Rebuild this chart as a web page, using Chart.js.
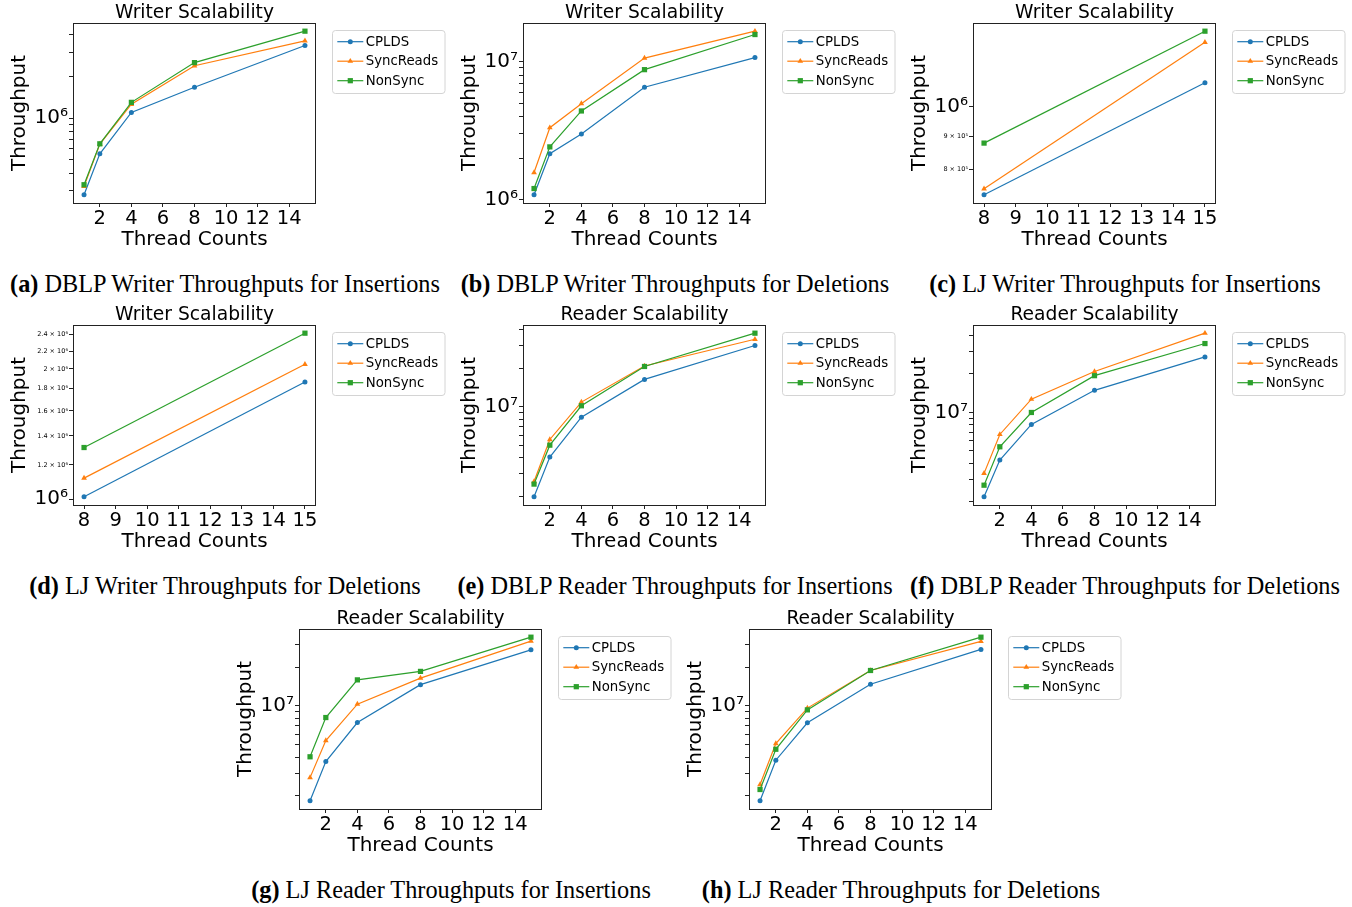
<!DOCTYPE html>
<html>
<head>
<meta charset="utf-8">
<script src="https://cdn.jsdelivr.net/npm/chart.js@4.4.1/dist/chart.umd.min.js"></script>
<style>
  html, body { margin: 0; padding: 0; background: #fff; }
  body { width: 1352px; height: 907px; position: relative; overflow: hidden; }
  .panel { position: absolute; width: 450px; height: 300px; }
  .panel canvas { position: absolute; left: 0; top: 0; }
  .cap {
    position: absolute; left: -20px; top: 270px; width: 490px; text-align: center;
    font-family: 'Liberation Serif', serif; font-size: 24.3px; line-height: 28px;
    white-space: nowrap; color: #000;
  }
</style>
</head>
<body>
<script>
// ── data ─────────────────────────────────────────────────────────────────────
const seriesNames = ['CPLDS', 'SyncReads', 'NonSync'];
const threads     = [1, 2, 4, 8, 15];
const ljThreads   = [8, 15];
const xTicksAll   = [2, 4, 6, 8, 10, 12, 14];
const xTicksLJ    = [8, 9, 10, 11, 12, 13, 14, 15];
const logSubs     = [1, 2, 3, 4, 5, 6, 7, 8, 9];
const ljWriterInsTicks = [8e5, 9e5, 1e6];
const ljWriterDelTicks = [1e6, 1.2e6, 1.4e6, 1.6e6, 1.8e6, 2e6, 2.2e6, 2.4e6];

// (a) DBLP writer, insertions
const dblpWInsCPLDS   = [2.79e5, 5.52e5, 1.10e6, 1.67e6, 3.35e6];
const dblpWInsSync    = [3.21e5, 6.49e5, 1.26e6, 2.39e6, 3.62e6];
const dblpWInsNonSync = [3.30e5, 6.52e5, 1.30e6, 2.52e6, 4.25e6];
// (b) DBLP writer, deletions
const dblpWDelCPLDS   = [1.09e6, 2.16e6, 3.00e6, 6.53e6, 1.07e7];
const dblpWDelSync    = [1.58e6, 3.33e6, 4.97e6, 1.06e7, 1.66e7];
const dblpWDelNonSync = [1.21e6, 2.42e6, 4.40e6, 8.75e6, 1.57e7];
// (c) LJ writer, insertions
const ljWInsCPLDS   = [7.30e5, 1.089e6];
const ljWInsSync    = [7.46e5, 1.258e6];
const ljWInsNonSync = [8.78e5, 1.309e6];
// (d) LJ writer, deletions
const ljWDelCPLDS   = [1.012e6, 1.866e6];
const ljWDelSync    = [1.118e6, 2.05e6];
const ljWDelNonSync = [1.316e6, 2.42e6];
// (e) DBLP reader, insertions
const dblpRInsCPLDS   = [1.98e6, 4.05e6, 8.30e6, 1.64e7, 3.02e7];
const dblpRInsSync    = [2.61e6, 5.56e6, 1.09e7, 2.09e7, 3.38e7];
const dblpRInsNonSync = [2.49e6, 5.02e6, 1.02e7, 2.07e7, 3.77e7];
// (f) DBLP reader, deletions
const dblpRDelCPLDS   = [2.19e6, 4.25e6, 8.06e6, 1.49e7, 2.72e7];
const dblpRDelSync    = [3.34e6, 6.73e6, 1.27e7, 2.09e7, 4.17e7];
const dblpRDelNonSync = [2.70e6, 5.39e6, 1.00e7, 1.94e7, 3.46e7];
// (g) LJ reader, insertions
const ljRInsCPLDS   = [1.83e6, 3.69e6, 7.42e6, 1.46e7, 2.72e7];
const ljRInsSync    = [2.77e6, 5.37e6, 1.03e7, 1.64e7, 3.18e7];
const ljRInsNonSync = [4.02e6, 8.11e6, 1.59e7, 1.85e7, 3.41e7];
// (h) LJ reader, deletions
const ljRDelCPLDS   = [1.83e6, 3.78e6, 7.38e6, 1.47e7, 2.74e7];
const ljRDelSync    = [2.45e6, 5.09e6, 9.60e6, 1.88e7, 3.16e7];
const ljRDelNonSync = [2.24e6, 4.60e6, 9.30e6, 1.88e7, 3.41e7];

// ── layout / style ───────────────────────────────────────────────────────────
const COLORS = ['#1f77b4', '#ff7f0e', '#2ca02c'];
const STYLES = ['circle', 'triangle', 'rect'];
const RADII  = [2.5, 3.3, 3.7];
const FONT   = 'DejaVu Sans';

const panels = [
  { left: 0,   top: 0,   tag: '(a)', cap: 'DBLP Writer Throughputs for Insertions', title: 'Writer Scalability',
    x: threads, xTicks: xTicksAll, series: [dblpWInsCPLDS, dblpWInsSync, dblpWInsNonSync] },
  { left: 450, top: 0,   tag: '(b)', cap: 'DBLP Writer Throughputs for Deletions', title: 'Writer Scalability',
    x: threads, xTicks: xTicksAll, series: [dblpWDelCPLDS, dblpWDelSync, dblpWDelNonSync] },
  { left: 900, top: 0,   tag: '(c)', cap: 'LJ Writer Throughputs for Insertions', title: 'Writer Scalability',
    x: ljThreads, xTicks: xTicksLJ, yTicks: ljWriterInsTicks, series: [ljWInsCPLDS, ljWInsSync, ljWInsNonSync] },
  { left: 0,   top: 302, tag: '(d)', cap: 'LJ Writer Throughputs for Deletions', title: 'Writer Scalability',
    x: ljThreads, xTicks: xTicksLJ, yTicks: ljWriterDelTicks, series: [ljWDelCPLDS, ljWDelSync, ljWDelNonSync] },
  { left: 450, top: 302, tag: '(e)', cap: 'DBLP Reader Throughputs for Insertions', title: 'Reader Scalability',
    x: threads, xTicks: xTicksAll, series: [dblpRInsCPLDS, dblpRInsSync, dblpRInsNonSync] },
  { left: 900, top: 302, tag: '(f)', cap: 'DBLP Reader Throughputs for Deletions', title: 'Reader Scalability',
    x: threads, xTicks: xTicksAll, series: [dblpRDelCPLDS, dblpRDelSync, dblpRDelNonSync] },
  { left: 226, top: 606, tag: '(g)', cap: 'LJ Reader Throughputs for Insertions', title: 'Reader Scalability',
    x: threads, xTicks: xTicksAll, series: [ljRInsCPLDS, ljRInsSync, ljRInsNonSync] },
  { left: 676, top: 606, tag: '(h)', cap: 'LJ Reader Throughputs for Deletions', title: 'Reader Scalability',
    x: threads, xTicks: xTicksAll, series: [ljRDelCPLDS, ljRDelSync, ljRDelNonSync] },
];

const SUP = '⁰¹²³⁴⁵⁶⁷⁸⁹';
function fmtLog(v) {
  const exp  = Math.floor(Math.log10(v) + 1e-9);
  const mant = Math.round(v / Math.pow(10, exp) * 10) / 10;
  const sup  = String(exp).split('').map(d => SUP[+d]).join('');
  return mant === 1 ? '10' + sup : mant + ' × 10' + sup;
}
const isPow10 = v => Math.abs(Math.log10(v) - Math.round(Math.log10(v))) < 1e-9;

function logTicks(min, max) {
  const out = [];
  for (let e = Math.floor(Math.log10(min)); e <= Math.ceil(Math.log10(max)); e++) {
    for (const s of logSubs) {
      const v = s * Math.pow(10, e);
      if (v >= min && v <= max) out.push({ value: v, major: s === 1 });
    }
  }
  return out;
}

function marker(ctx, style, r, x, y) {
  ctx.beginPath();
  if (style === 'circle') {
    ctx.arc(x, y, r, 0, Math.PI * 2);
  } else if (style === 'triangle') {
    for (let k = 0; k < 3; k++) {
      const a = k * 2 * Math.PI / 3;
      const px = x + Math.sin(a) * r, py = y - Math.cos(a) * r;
      k ? ctx.lineTo(px, py) : ctx.moveTo(px, py);
    }
    ctx.closePath();
  } else {
    const s = r * Math.SQRT1_2;
    ctx.rect(x - s, y - s, 2 * s, 2 * s);
  }
  ctx.fill();
}

// frame, title and matplotlib-style legend
const decorPlugin = {
  id: 'decor',
  afterDraw(chart, args, opts) {
    const { ctx, chartArea: a } = chart;
    ctx.save();
    ctx.strokeStyle = '#222';
    ctx.lineWidth = 1;
    ctx.strokeRect(Math.round(a.left) + 0.5, Math.round(a.top) + 0.5,
                   Math.round(a.right - a.left) - 1, Math.round(a.bottom - a.top));

    ctx.fillStyle = '#000';
    ctx.font = `18.7px "${FONT}"`;
    ctx.textAlign = 'center';
    ctx.textBaseline = 'middle';
    ctx.fillText(opts.title, (a.left + a.right) / 2, a.top - 10);

    const x0 = a.right + 16, y0 = a.top + 7, w = 112.5, h = 63;
    ctx.beginPath();
    ctx.roundRect(x0 + 0.5, y0 + 0.5, w, h, 3);
    ctx.fillStyle = 'rgba(255,255,255,0.8)';
    ctx.fill();
    ctx.strokeStyle = '#d4d4d4';
    ctx.stroke();

    ctx.textAlign = 'left';
    ctx.font = `13.3px "${FONT}"`;
    chart.data.datasets.forEach((ds, i) => {
      const cy = y0 + 11.7 + i * 19.5;
      ctx.strokeStyle = ds.borderColor;
      ctx.lineWidth = ds.borderWidth;
      ctx.beginPath();
      ctx.moveTo(x0 + 5.3, cy);
      ctx.lineTo(x0 + 31.3, cy);
      ctx.stroke();
      ctx.fillStyle = ds.borderColor;
      marker(ctx, ds.pointStyle, ds.pointRadius, x0 + 18.3, cy);
      ctx.fillStyle = '#000';
      ctx.fillText(ds.label, x0 + 33.7, cy + 0.5);
    });
    ctx.restore();
  },
};

function buildPanel(p) {
  const div = document.createElement('div');
  div.className = 'panel';
  div.style.left = p.left + 'px';
  div.style.top = p.top + 'px';
  const canvas = document.createElement('canvas');
  canvas.width = 450;
  canvas.height = 252;
  div.appendChild(canvas);
  const cap = document.createElement('div');
  cap.className = 'cap';
  cap.innerHTML = `<b>${p.tag}</b> ${p.cap}`;
  div.appendChild(cap);
  document.body.appendChild(div);

  const all = p.series.flat();
  const lo = Math.log10(Math.min(...all)), hi = Math.log10(Math.max(...all));
  const ym = (hi - lo) * 0.05;
  const yMin = Math.pow(10, lo - ym), yMax = Math.pow(10, hi + ym);
  const xs = p.x;
  const xm = (xs[xs.length - 1] - xs[0]) * 0.05;
  const labelMinor = !!p.yTicks;

  new Chart(canvas, {
    type: 'line',
    data: {
      datasets: seriesNames.map((name, i) => ({
        label:                name,
        data:                 xs.map((x, j) => ({ x, y: p.series[i][j] })),
        borderColor:          COLORS[i],
        backgroundColor:      COLORS[i],
        pointBackgroundColor: COLORS[i],
        pointStyle:           STYLES[i],
        pointRadius:          RADII[i],
        pointBorderWidth:     0,
        borderWidth:          1.2,
        tension:              0,
        order:                2 - i,
      })),
    },
    options: {
      responsive: false,
      animation: false,
      devicePixelRatio: 1,
      layout: { padding: { top: 23, right: 134, bottom: 0, left: 0 } },
      plugins: {
        legend:  { display: false },
        tooltip: { enabled: false },
        decor:   { title: p.title },
      },
      scales: {
        x: {
          type: 'linear',
          min: xs[0] - xm,
          max: xs[xs.length - 1] + xm,
          afterBuildTicks: s => { s.ticks = p.xTicks.map(v => ({ value: v })); },
          afterFit: s => { s.height = 49; },
          grid:   { display: true, drawOnChartArea: false, drawTicks: true, tickLength: 4, color: '#222' },
          border: { display: false },
          ticks:  { color: '#000', font: { family: FONT, size: 19.5 }, padding: 0, autoSkip: false, maxRotation: 0 },
          title:  { display: true, text: 'Thread Counts', color: '#000',
                    font: { family: FONT, size: 20 }, padding: { top: 0, bottom: 0 } },
        },
        y: {
          type: 'logarithmic',
          min: yMin,
          max: yMax,
          afterBuildTicks: s => {
            s.ticks = p.yTicks
              ? p.yTicks.filter(v => v >= yMin && v <= yMax).map(v => ({ value: v, major: isPow10(v) }))
              : logTicks(yMin, yMax);
          },
          afterFit: s => { s.width = 73; },
          grid:   { display: true, drawOnChartArea: false, drawTicks: true, tickLength: 4, color: '#222' },
          border: { display: false },
          ticks: {
            color: '#000',
            autoSkip: false,
            padding: 1,
            font: ctx => ({ family: FONT, size: ctx.tick && ctx.tick.major ? 20 : 6.5 }),
            callback: (v, i, ticks) => (ticks[i].major || labelMinor) ? fmtLog(v) : '',
          },
          title: { display: true, text: 'Throughput', color: '#000',
                   font: { family: FONT, size: 20 }, padding: { top: 7.3, bottom: 0 } },
        },
      },
    },
    plugins: [decorPlugin],
  });
}

panels.forEach(buildPanel);
</script>
</body>
</html>
